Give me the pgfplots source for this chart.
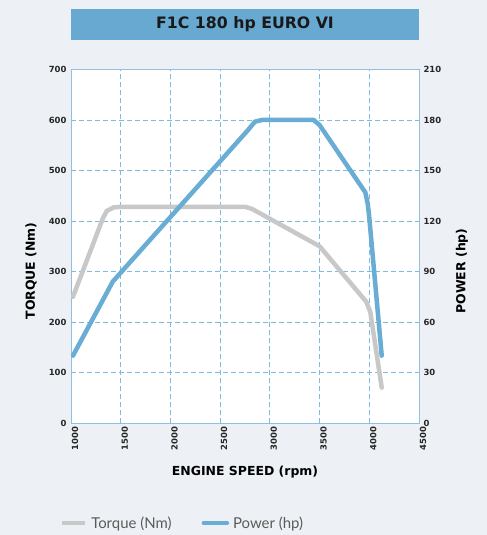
\documentclass[border=0pt]{standalone}
\usepackage{pgfplots}
\pgfplotsset{compat=1.18}
\usepackage{fontspec}
\setmainfont{Lato}
\newfontfamily\dv{DejaVu Sans}
\definecolor{bgc}{HTML}{EDF1F5}
\definecolor{titlec}{HTML}{68A9D1}
\definecolor{pblue}{HTML}{69ACD4}
\definecolor{gridc}{HTML}{7FBBE0}
\definecolor{axc}{HTML}{8FC0E0}
\definecolor{tgray}{HTML}{C8C8C8}
\definecolor{legtext}{HTML}{5A5A5A}
\begin{document}
\begin{tikzpicture}[x=1bp,y=1bp]
\path[use as bounding box, fill=bgc] (0,0) rectangle (487,535);
\fill[titlec] (71,495) rectangle (419,526);
\node[font=\dv\fontsize{15.8}{18}\selectfont\bfseries, text=black!90] at (245,510.5) {F1C 180 hp EURO VI};
\pgfplotsset{
  myaxis/.style={
    at={(71bp,112bp)}, anchor=south west,
    scale only axis, width=348bp, height=353.5bp,
    xmin=1000, xmax=4500,
    /pgf/number format/assume math mode=true,
    /pgf/number format/1000 sep={},
    tick style={draw=none},
    ticklabel style={font=\dv\fontsize{8.5}{9}\selectfont\bfseries, text=black!85},
    axis line style={axc, line width=0.9pt},
  }
}
\begin{axis}[myaxis,
  axis background/.style={fill=white},
  ymin=0, ymax=700,
  xtick={1000,1500,...,4500},
  ytick={0,100,...,700},
  grid=major,
  major grid style={gridc, line width=0.8pt, dash pattern=on 5bp off 3bp},
  xticklabel style={rotate=90, anchor=east, xshift=0bp, yshift=-4bp},
  yticklabel style={anchor=east, xshift=-1bp},
  xlabel={ENGINE SPEED (rpm)},
  ylabel={TORQUE (Nm)},
  xlabel style={font=\dv\fontsize{12.5}{14}\selectfont\bfseries, at={(axis description cs:0.5,-0.139)}, anchor=center},
  ylabel style={font=\dv\fontsize{12.5}{14}\selectfont\bfseries, at={(axis description cs:-0.115,0.43)}, anchor=center, rotate=0},
]
\addplot[tgray, line width=4.5bp, line join=round, line cap=round] coordinates {
(1020,250) (1320,405) (1360,420) (1430,427) (1500,428) (2750,428) (2820,424) (3500,350) (3970,240) (4010,220) (4125,70)
};
\end{axis}
\begin{axis}[myaxis,
  axis x line=none,
  axis y line*=right,
  ymin=0, ymax=210,
  ytick={0,30,...,210},
  yticklabel style={anchor=west, xshift=1bp},
  ylabel={POWER (hp)},
  ylabel style={font=\dv\fontsize{12.5}{14}\selectfont\bfseries, at={(axis description cs:1.1236,0.43)}, anchor=center, rotate=0},
  legend style={draw=none, fill=none, at={(axis description cs:-0.04,-0.283)}, anchor=west,
    legend columns=2, font=\fontsize{15}{17}\selectfont, text=legtext,
    /tikz/every even column/.append style={column sep=28bp}},
  legend image code/.code={\draw[#1] (0bp,0bp) -- (23bp,0bp);},
  legend cell align=left,
]
\addlegendimage{tgray, line width=4bp}
\addlegendentry{\hspace{2bp}Torque (Nm)}
\addplot[pblue, line width=4.5bp, line join=round, line cap=round] coordinates {
(1020,40) (1420,84) (2780,174) (2850,179) (2920,180) (3440,180) (3500,177) (3960,137) (3985,130) (4000,122) (4125,40)
};
\addlegendentry{\hspace{2bp}Power (hp)}
\end{axis}
\end{tikzpicture}
\end{document}
